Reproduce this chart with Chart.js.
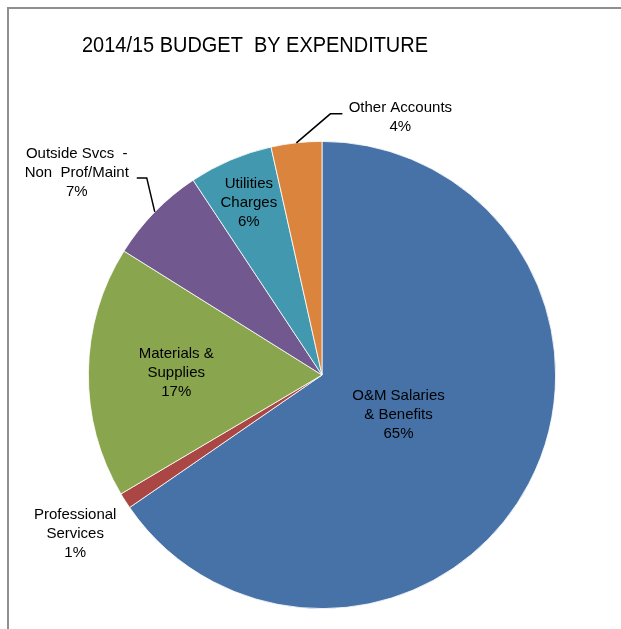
<!DOCTYPE html>
<html>
<head>
<meta charset="utf-8">
<script src="https://cdn.jsdelivr.net/npm/chart.js@4.4.1/dist/chart.umd.min.js"></script>
<style>
    body { margin: 0; background: #fff; }
    #frame {
        position: absolute; left: 7px; top: 7px; width: 700px; height: 700px;
        border-top: 2px solid #8f8f8f; border-left: 2px solid #8f8f8f;
    }
    #chartBudget { position: absolute; left: 0; top: 0; }
</style>
</head>
<body>
<div id="frame"></div>
<canvas id="chartBudget" width="621" height="629" style="width:621px;height:629px"></canvas>
<script>
const chartTitle = "2014/15 BUDGET  BY EXPENDITURE"
const categories = [
    ["O&M Salaries", "& Benefits"],
    ["Professional", "Services"],
    ["Materials &", "Supplies"],
    ["Outside Svcs  -", "Non  Prof/Maint"],
    ["Utilities", "Charges"],
    ["Other Accounts"]
]
const shares = [65.4, 1.1, 17.4, 6.8, 5.8, 3.5]
const pctLabels = ["65%", "1%", "17%", "7%", "6%", "4%"]
const sliceColors = ['#4672a8', '#aa4643', '#89a54e', '#71588f', '#4198af', '#db843d']

// where each label sits: k = fraction of radius along the slice middle,
// otherwise offsets from the point on the rim, with an optional leader line
const labelLayout = [
    { k: 0.37 },
    { text: [-50, 33] },
    { k: 0.624 },
    { text: [-78, -39], elbow: [-8, -34], tail: -10 },
    { k: 0.8 },
    { text: [104, -25], elbow: [34, -29], tail: 12 }
]

const labelPlugin = {
    id: 'sliceLabels',
    afterDraw(chart) {
        const ctx = chart.ctx
        const arcs = chart.getDatasetMeta(0).data
        ctx.save()
        ctx.fillStyle = '#000'
        // title is a condensed face in the original, so squeeze it to its width
        ctx.font = '22px "Liberation Sans", Arial, sans-serif'
        ctx.textAlign = 'left'
        ctx.textBaseline = 'alphabetic'
        const w = ctx.measureText(chartTitle).width
        ctx.save()
        ctx.translate(82, 52)
        ctx.scale(346 / w, 1)
        ctx.fillText(chartTitle, 0, 0)
        ctx.restore()

        ctx.font = '15px "Liberation Sans", Arial, sans-serif'
        ctx.textAlign = 'center'
        ctx.textBaseline = 'middle'
        ctx.strokeStyle = '#000'
        ctx.lineWidth = 1.5
        arcs.forEach((arc, i) => {
            const p = arc.getProps(['x', 'y', 'startAngle', 'endAngle', 'outerRadius'], true)
            const mid = (p.startAngle + p.endAngle) / 2
            const L = labelLayout[i]
            let cx, cy
            if (L.k !== undefined) {
                cx = p.x + Math.cos(mid) * p.outerRadius * L.k
                cy = p.y + Math.sin(mid) * p.outerRadius * L.k
            } else {
                const ex = p.x + Math.cos(mid) * p.outerRadius
                const ey = p.y + Math.sin(mid) * p.outerRadius
                if (L.elbow) {
                    ctx.beginPath()
                    ctx.moveTo(ex, ey)
                    ctx.lineTo(ex + L.elbow[0], ey + L.elbow[1])
                    ctx.lineTo(ex + L.elbow[0] + L.tail, ey + L.elbow[1])
                    ctx.stroke()
                }
                cx = ex + L.text[0]
                cy = ey + L.text[1]
            }
            const lines = categories[i].concat(pctLabels[i])
            lines.forEach((t, j) => {
                ctx.fillText(t, cx, cy + (j - (lines.length - 1) / 2) * 19)
            })
        })
        ctx.restore()
    }
}

const ctx = document.getElementById('chartBudget').getContext('2d')
new Chart(ctx, {
    type: 'pie',
    data: {
        labels: categories.map(c => c.join(' ')),
        datasets: [{
            data: shares,
            backgroundColor: sliceColors,
            borderColor: '#ffffff',
            borderWidth: 0.8
        }]
    },
    options: {
        responsive: false,
        animation: false,
        layout: { padding: { left: 88, right: 65, top: 141, bottom: 20 } },
        plugins: {
            legend: { display: false },
            tooltip: { enabled: false }
        }
    },
    plugins: [labelPlugin]
})
</script>
</body>
</html>
